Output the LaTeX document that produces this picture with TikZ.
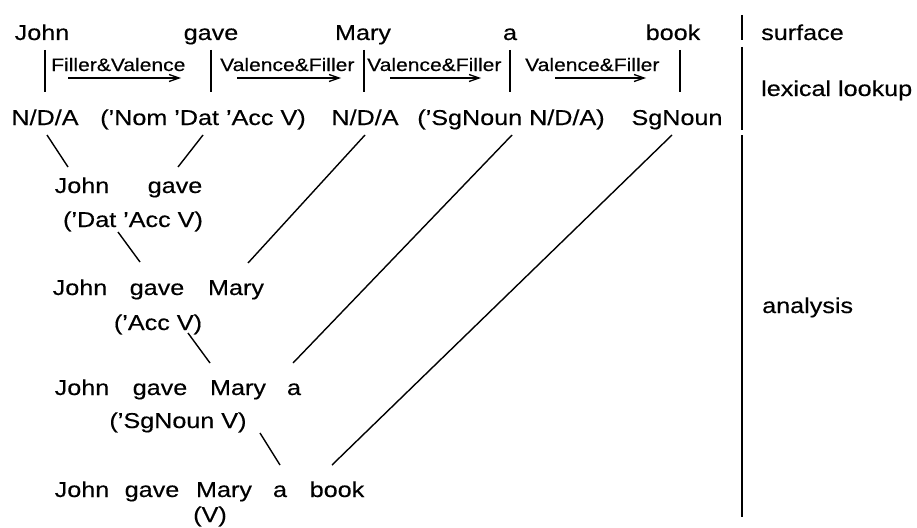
\documentclass[tikz,border=0pt]{standalone}
\usepackage{fontspec}
\setmainfont{Liberation Sans}[FakeStretch=1.17,FakeBold=0.4]
\usetikzlibrary{arrows.meta}
\begin{document}
\begin{tikzpicture}[x=1pt,y=-1pt,
  word/.style={anchor=base,inner sep=0pt,font=\fontsize{21.5}{24}\selectfont},
  side/.style={anchor=base west,inner sep=0pt,font=\fontsize{21.5}{24}\selectfont},
  lab/.style={anchor=base west,inner sep=0pt,font=\fontsize{18}{20}\selectfont},
  link/.style={line width=1.4pt},
  tick/.style={line width=1.2pt},
  trans/.style={line width=1.3pt,-{Straight Barb[length=10pt,width=7pt]}},
  bar/.style={line width=2.8pt}]
\useasboundingbox (0,0) rectangle (917,527);
% surface row
\node[word] (sJohn) at (42,40) {John};
\node[word] (sgave) at (211,40) {gave};
\node[word] (sMary) at (363,40) {Mary};
\node[word] (sa) at (510,40) {a};
\node[word] (sbook) at (673,40) {book};
\node[side] (surface) at (761,40) {surface};
% transition labels
\node[lab] (t1) at (51,71) {Filler\&Valence};
\node[lab] (t2) at (220,71) {Valence\&Filler};
\node[lab] (t3) at (367,71) {Valence\&Filler};
\node[lab] (t4) at (525,71) {Valence\&Filler};
\foreach \x [count=\i] in {45,211,364,510,680}{
  \coordinate (tk\i a) at (\x,50);
  \coordinate (tk\i b) at (\x,92);
  \draw[tick] (tk\i a) -- (tk\i b);
}
\coordinate (a1s) at (68,78);  \coordinate (a1e) at (181,78);
\coordinate (a2s) at (237,78); \coordinate (a2e) at (341,78);
\coordinate (a3s) at (390,78); \coordinate (a3e) at (481,78);
\coordinate (a4s) at (555,78); \coordinate (a4e) at (646,78);
\draw[trans] (a1s) -- (a1e);
\draw[trans] (a2s) -- (a2e);
\draw[trans] (a3s) -- (a3e);
\draw[trans] (a4s) -- (a4e);
% lexical lookup row
\node[word] (nda1) at (45,125) {N/D/A};
\node[word] (nom) at (203,125) {(’Nom ’Dat ’Acc V)};
\node[word] (nda2) at (365,125) {N/D/A};
\node[word] (sgnda) at (511,125) {(’SgNoun N/D/A)};
\node[word] (sgn) at (677,125) {SgNoun};
\node[side] (lex) at (761,96) {lexical lookup};
% analysis rows
\node[word] (j1) at (82,193) {John};
\node[word] (g1) at (175,193) {gave};
\node[word] (c1) at (133,227) {(’Dat ’Acc V)};
\node[word] (j2) at (80,295) {John};
\node[word] (g2) at (157,295) {gave};
\node[word] (m2) at (236,295) {Mary};
\node[word] (c2) at (158,330) {(’Acc V)};
\node[word] (j3) at (82,395) {John};
\node[word] (g3) at (160,395) {gave};
\node[word] (m3) at (238,395) {Mary};
\node[word] (a3) at (294,395) {a};
\node[word] (c3) at (178,428) {(’SgNoun V)};
\node[word] (j4) at (82,497) {John};
\node[word] (g4) at (152,497) {gave};
\node[word] (m4) at (224,497) {Mary};
\node[word] (a4) at (280,497) {a};
\node[word] (b4) at (337,497) {book};
\node[word] (c4) at (210,522) {(V)};
\node[side] (analysis) at (762,313) {analysis};
% connectors
\draw[link] ([shift={(2,10)}]nda1.base) -- ([shift={(-14,-26)}]j1.base);
\draw[link] ([shift={(0,10)}]nom.base) -- ([shift={(3,-26)}]g1.base);
\draw[link] ([shift={(-15,5)}]c1.base) -- ([shift={(-17,-33)}]g2.base);
\draw[link] ([shift={(0,10)}]nda2.base) -- ([shift={(12,-32)}]m2.base);
\draw[link] ([shift={(30,3)}]c2.base) -- ([shift={(-28,-32)}]m3.base);
\draw[link] ([shift={(1,10)}]sgnda.base) -- ([shift={(-1,-32)}]a3.base);
\draw[link] ([shift={(82,5)}]c3.base) -- ([shift={(0,-32)}]a4.base);
\draw[link] ([shift={(-5,10)}]sgn.base) -- ([shift={(-5,-32)}]b4.base);
% level separator
\coordinate (b1) at (742,15); \coordinate (b2) at (742,40);
\coordinate (b3) at (742,47); \coordinate (b4c) at (742,130);
\coordinate (b5) at (742,135); \coordinate (b6) at (742,517);
\draw[bar] (b1) -- (b2);
\draw[bar] (b3) -- (b4c);
\draw[bar] (b5) -- (b6);
\end{tikzpicture}
\end{document}
